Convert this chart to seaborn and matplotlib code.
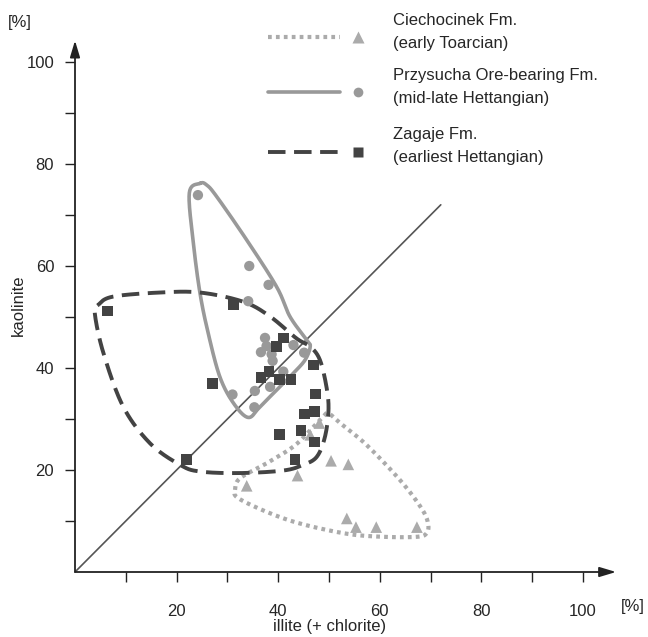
import numpy as np
import pandas as pd
import matplotlib
matplotlib.use("Agg")
import matplotlib.pyplot as plt
import seaborn as sns

# ---------------- data ----------------
cie_x = [33.8, 43.8, 46.3, 48.1, 50.4, 53.8, 53.5, 55.3, 59.3, 67.3]
cie_y = [16.9, 18.9, 26.9, 29.2, 21.8, 21.1, 10.5, 8.8, 8.8, 8.8]

prz_x = [24.2, 34.3, 38.1, 34.1, 37.4, 37.7, 36.6, 38.7, 38.9, 43.0, 45.1, 41.0, 38.4, 35.4, 31.0, 35.3]
prz_y = [73.9, 60.0, 56.3, 53.1, 45.9, 44.3, 43.1, 42.7, 41.4, 44.5, 43.0, 39.3, 36.3, 35.5, 34.8, 32.3]

zag_x = [6.4, 31.2, 41.0, 39.7, 47.0, 38.2, 36.6, 40.2, 42.5, 27.1, 47.4, 45.1, 47.2, 44.5, 47.1, 43.3, 40.2, 22.0]
zag_y = [51.2, 52.4, 45.9, 44.2, 40.6, 39.3, 38.1, 37.8, 37.8, 37.0, 34.9, 31.0, 31.4, 27.8, 25.5, 22.1, 27.0, 22.0]

# envelope outlines (control points)
cie_env_x = [31.5, 32.5, 37.7, 43.0, 46.3, 48.9, 49.9, 52.2, 57.4, 64.0, 68.2, 69.5, 69.2, 67.3, 60.7, 53.5, 44.3, 37.7, 32.1]
cie_env_y = [16.1, 18.4, 21.3, 24.6, 27.8, 30.5, 31.1, 29.2, 24.9, 18.0, 12.5, 9.5, 7.6, 6.9, 6.9, 7.5, 9.5, 11.8, 14.5]

prz_env_x = [24.6, 25.9, 27.9, 33.8, 39.7, 42.3, 45.6, 46.3, 45.3, 43.0, 39.7, 36.4, 34.1, 31.2, 28.5, 26.2, 24.6, 23.3, 22.5]
prz_env_y = [76.2, 75.9, 73.6, 65.1, 55.9, 50.1, 45.5, 44.2, 41.6, 39.0, 35.7, 32.4, 30.3, 33.1, 38.3, 46.9, 54.7, 64.5, 74.3]

zag_env_x = [4.6, 7.5, 16.7, 24.6, 33.1, 38.4, 43.6, 46.3, 48.2, 49.5, 49.9, 49.2, 47.6, 44.9, 41.0, 32.5, 24.6, 20.7, 14.8, 9.5, 5.6, 3.9]
zag_env_y = [52.4, 54.0, 54.8, 54.8, 53.0, 50.1, 45.8, 44.2, 41.6, 36.3, 31.8, 26.5, 22.6, 21.0, 19.9, 19.4, 19.7, 21.0, 25.2, 32.4, 42.9, 50.7]

diag = [0, 72]

tick_vals = [10, 20, 30, 40, 50, 60, 70, 80, 90, 100]
tick_labels = ["", "20", "", "40", "", "60", "", "80", "", "100"]

legend_titles = ["Ciechocinek Fm.", "Przysucha Ore-bearing Fm.", "Zagaje Fm."]
legend_ages = ["(early Toarcian)", "(mid-late Hettangian)", "(earliest Hettangian)"]

# ---------------- style ----------------
sns.set_style("white")
plt.rcParams["font.family"] = ["Liberation Sans", "DejaVu Sans"]

C_TRI = "#ababab"
C_CIR = "#999999"
C_SQ = "#434343"


def closed_smooth(xs, ys, n=20):
    """Catmull-Rom closed curve through control points."""
    P = np.column_stack([xs, ys])
    m = len(P)
    out = []
    t = np.linspace(0, 1, n, endpoint=False)[:, None]
    for i in range(m):
        p0, p1, p2, p3 = P[(i - 1) % m], P[i], P[(i + 1) % m], P[(i + 2) % m]
        seg = 0.5 * ((2 * p1) + (-p0 + p2) * t + (2 * p0 - 5 * p1 + 4 * p2 - p3) * t ** 2
                     + (-p0 + 3 * p1 - 3 * p2 + p3) * t ** 3)
        out.append(seg)
    out = np.vstack(out + [P[:1]])
    return out[:, 0], out[:, 1]


fig = plt.figure(figsize=(6.48, 6.37), dpi=100)
ax = fig.add_axes([75 / 648, 65 / 637, 543.6 / 648, 535.5 / 637])
ax.set_xlim(0, 107)
ax.set_ylim(0, 105)
for s in ax.spines.values():
    s.set_visible(False)

# diagonal
ax.plot(diag, diag, color="#555555", lw=1.2, zorder=1)

# envelopes
ex, ey = closed_smooth(cie_env_x, cie_env_y)
sns.lineplot(x=ex, y=ey, sort=False, estimator=None, ax=ax, color=C_TRI, lw=3.0,
             linestyle=(0, (0.9, 1.0)), zorder=2)
ex, ey = closed_smooth(prz_env_x, prz_env_y)
sns.lineplot(x=ex, y=ey, sort=False, estimator=None, ax=ax, color=C_CIR, lw=2.6, zorder=2)
ex, ey = closed_smooth(zag_env_x, zag_env_y)
sns.lineplot(x=ex, y=ey, sort=False, estimator=None, ax=ax, color=C_SQ, lw=2.8,
             linestyle=(0, (4.5, 2.2)), zorder=2)
for l in ax.lines:
    l.set_dash_capstyle("butt")

# points
sns.scatterplot(x=cie_x, y=cie_y, marker="^", s=70, color=C_TRI, edgecolor="none", ax=ax, zorder=4)
sns.scatterplot(x=prz_x, y=prz_y, marker="o", s=55, color=C_CIR, edgecolor="none", ax=ax, zorder=4)
sns.scatterplot(x=zag_x, y=zag_y, marker="s", s=60, color=C_SQ, edgecolor="none", ax=ax, zorder=5)

# axes arrows
ax.annotate("", xy=(106.5, 0), xytext=(0, 0), annotation_clip=False,
            arrowprops=dict(arrowstyle="-|>,head_length=1.0,head_width=0.3", color="#222222", lw=1.3,
                            shrinkA=0, shrinkB=0))
ax.annotate("", xy=(0, 104.2), xytext=(0, 0), annotation_clip=False,
            arrowprops=dict(arrowstyle="-|>,head_length=1.0,head_width=0.3", color="#222222", lw=1.3,
                            shrinkA=0, shrinkB=0))

ax.set_xticks(tick_vals)
ax.set_xticklabels(tick_labels)
ax.set_yticks(tick_vals)
ax.set_yticklabels(tick_labels)
ax.tick_params(axis="x", direction="out", length=7, width=1, color="#222222", pad=16,
               labelsize=12, bottom=True)
ax.tick_params(axis="y", direction="out", length=7, width=1, color="#222222", pad=8,
               labelsize=12, left=True)

fig.text(330 / 648, 1 - 626 / 637, "illite (+ chlorite)", fontsize=12, ha="center", va="center")
fig.text(18 / 648, 1 - 305 / 637, "kaolinite", fontsize=12, ha="center", va="center", rotation=90)
fig.text(20 / 648, 1 - 22 / 637, "[%]", fontsize=12, ha="center", va="center")
fig.text(633 / 648, 1 - 607 / 637, "[%]", fontsize=12, ha="center", va="center")

# legend (drawn manually)
leg_y = [104.9, 94.1, 82.4]
styles = [dict(color=C_TRI, lw=3.0, linestyle=(0, (0.9, 1.0))),
          dict(color=C_CIR, lw=2.6, linestyle="-"),
          dict(color=C_SQ, lw=2.8, linestyle=(0, (4.5, 2.2)))]
marks = [("^", C_TRI, 8), ("o", C_CIR, 7), ("s", C_SQ, 7)]
for yy, st, mk, t1, t2 in zip(leg_y, styles, marks, legend_titles, legend_ages):
    ln, = ax.plot([38.0, 52.2], [yy, yy], clip_on=False, **st)
    ln.set_dash_capstyle("butt")
    ax.plot([55.8], [yy], marker=mk[0], color=mk[1], ms=mk[2], mec="none", clip_on=False, ls="none")
    ax.text(62.6, yy + 3.3, t1, fontsize=12, va="center", ha="left", clip_on=False)
    ax.text(62.6, yy - 1.2, t2, fontsize=12, va="center", ha="left", clip_on=False)

fig.savefig("out.png", dpi=100)
